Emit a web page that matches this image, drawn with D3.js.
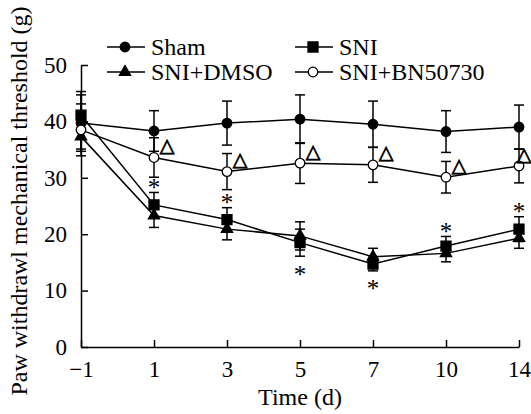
<!DOCTYPE html>
<html>
<head>
<meta charset="utf-8">
<script src="https://cdn.jsdelivr.net/npm/d3@7"></script>
<style>
  body { margin: 0; background: #fff; }
  svg text { font-family: "Liberation Serif", "DejaVu Serif", serif; fill: #000; }
</style>
</head>
<body>
<div id="chartContainer"></div>
<script>
// data
var days = [-1, 1, 3, 5, 7, 10, 14];
var yTicks = [0, 10, 20, 30, 40, 50];

var sham    = [39.7, 38.3, 39.7, 40.4, 39.5, 38.2, 39.0];
var shamErr = [5.0, 3.6, 3.9, 4.3, 4.1, 3.7, 3.9];
var sni     = [41.1, 25.2, 22.6, 18.5, 14.7, 17.9, 20.9];
var sniErr  = [4.2, 2.2, 2.1, 2.4, 1.2, 1.7, 2.2];
var dmso    = [37.3, 23.3, 20.9, 19.7, 16.0, 16.6, 19.3];
var dmsoErr = [2.2, 2.1, 1.9, 2.5, 1.5, 1.5, 1.8];
var bn      = [38.5, 33.6, 31.1, 32.6, 32.3, 30.1, 32.1];
var bnErr   = [4.6, 3.5, 3.2, 3.6, 3.1, 2.8, 3.0];

// significance marks: * on SNI (1 above, -1 below, 0 none), triangle on BN50730
var sniStar = [0, 1, 1, -1, -1, 1, 1];
var bnDelta = [0, 1, 1, 1, 1, 1, 1];

var width = 531, height = 414;
var serif = "Liberation Serif, DejaVu Serif, serif";

var x = d3.scalePoint().domain(days).range([81, 519]);
var y = d3.scaleLinear().domain([0, 50]).range([347, 65]);

var svg = d3.select("#chartContainer").append("svg")
  .attr("width", width)
  .attr("height", height)
  .style("font-family", serif);

// axes
var xAxis = d3.axisBottom(x)
  .tickSizeInner(-7).tickSizeOuter(0).tickPadding(14)
  .tickFormat(function(d) { return String(d).replace("-", "\u2212"); });
var yAxis = d3.axisLeft(y)
  .tickValues(yTicks)
  .tickSizeInner(-7).tickSizeOuter(0).tickPadding(14);

var gx = svg.append("g")
  .attr("transform", "translate(0," + y(0) + ")")
  .call(xAxis);
var gy = svg.append("g")
  .attr("transform", "translate(" + x(-1) + ",0)")
  .call(yAxis);

[gx, gy].forEach(function(g) {
  g.attr("font-family", null).attr("font-size", 23);
  g.select(".domain").attr("stroke", "#000").attr("stroke-width", 1.5);
  g.selectAll(".tick line").attr("stroke", "#000").attr("stroke-width", 1.5);
  g.selectAll(".tick text").attr("fill", "#000").style("font-family", serif);
});

// axis titles
svg.append("text")
  .attr("x", 300).attr("y", 405)
  .attr("text-anchor", "middle")
  .attr("font-size", 24)
  .text("Time (d)");

svg.append("text")
  .attr("transform", "translate(27,201) rotate(-90)")
  .attr("text-anchor", "middle")
  .attr("font-size", 24)
  .text("Paw withdrawl mechanical threshold (g)");

var series = [
  {name: "Sham",        vals: sham, err: shamErr, shape: d3.symbolCircle,   size: 72,  fill: "#000"},
  {name: "SNI",         vals: sni,  err: sniErr,  shape: d3.symbolSquare,   size: 100, fill: "#000"},
  {name: "SNI+DMSO",    vals: dmso, err: dmsoErr, shape: d3.symbolTriangle, size: 55,  fill: "#000"},
  {name: "SNI+BN50730", vals: bn,   err: bnErr,   shape: d3.symbolCircle,   size: 72,  fill: "#fff"}
];

var line = d3.line()
  .x(function(d, i) { return x(days[i]); })
  .y(function(d) { return y(d); });

// lines
series.forEach(function(s) {
  svg.append("path")
    .datum(s.vals)
    .attr("fill", "none")
    .attr("stroke", "#000")
    .attr("stroke-width", 1.5)
    .attr("d", line);
});

// error bars
series.forEach(function(s) {
  var g = svg.append("g").attr("stroke", "#000").attr("stroke-width", 1.5);
  s.vals.forEach(function(v, i) {
    var cx = x(days[i]), hi = y(v + s.err[i]), lo = y(v - s.err[i]);
    g.append("line").attr("x1", cx).attr("x2", cx).attr("y1", hi).attr("y2", lo);
    g.append("line").attr("x1", cx - 5).attr("x2", cx + 5).attr("y1", hi).attr("y2", hi);
    g.append("line").attr("x1", cx - 5).attr("x2", cx + 5).attr("y1", lo).attr("y2", lo);
  });
});

// markers
series.forEach(function(s) {
  svg.append("g").selectAll("path")
    .data(s.vals)
    .enter().append("path")
    .attr("transform", function(d, i) { return "translate(" + x(days[i]) + "," + y(d) + ")"; })
    .attr("d", d3.symbol().type(s.shape).size(s.size))
    .attr("fill", s.fill)
    .attr("stroke", "#000")
    .attr("stroke-width", 1.3);
});

// * marks for SNI
sni.forEach(function(v, i) {
  if (!sniStar[i]) return;
  var cy = sniStar[i] > 0 ? y(v + sniErr[i]) - 9 : y(v - sniErr[i]) + 14;
  svg.append("text")
    .attr("x", x(days[i])).attr("y", cy)
    .attr("dy", "0.5em")
    .attr("text-anchor", "middle")
    .attr("font-size", 25)
    .text("*");
});

// open triangle marks for BN50730 (last one kept inside the frame)
bn.forEach(function(v, i) {
  if (!bnDelta[i]) return;
  svg.append("text")
    .attr("x", Math.min(x(days[i]) + 13, width - 7)).attr("y", y(v) - 13)
    .attr("dy", "0.4em")
    .attr("text-anchor", "middle")
    .attr("font-size", 19)
    .attr("stroke", "#000")
    .attr("stroke-width", 0.8)
    .style("font-family", "DejaVu Sans")
    .text("\u25B3");
});

// legend
var legendPos = [[107, 47], [295, 47], [107, 72], [295, 72]];
series.forEach(function(s, i) {
  var lx = legendPos[i][0], ly = legendPos[i][1];
  var g = svg.append("g").attr("transform", "translate(" + lx + "," + ly + ")");
  g.append("line").attr("x1", 0).attr("x2", 38).attr("y1", 0).attr("y2", 0)
    .attr("stroke", "#000").attr("stroke-width", 1.5);
  g.append("path")
    .attr("transform", "translate(18,0)")
    .attr("d", d3.symbol().type(s.shape).size(s.size))
    .attr("fill", s.fill).attr("stroke", "#000").attr("stroke-width", 1.3);
  g.append("text")
    .attr("x", 44).attr("dy", "0.35em")
    .attr("font-size", 24)
    .text(s.name);
});
</script>
</body>
</html>
